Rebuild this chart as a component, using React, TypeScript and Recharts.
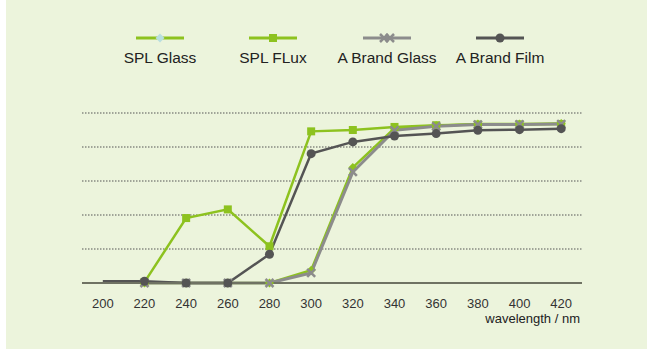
import { LineChart, Line, XAxis, YAxis, CartesianGrid } from 'recharts';

const wavelengths = ['200', '220', '240', '260', '280', '300', '320', '340', '360', '380', '400', '420'];

// transmittance (%) per wavelength
const splGlass = [null, 0, 0, 0, 0, 7.5, 68, 91, 92.5, 93.5, 93.5, 93.8];
const splFlux = [null, 0.5, 38.2, 43.3, 21.6, 89.2, 90, 91.8, 92.8, 93.2, 93.3, 93.5];
const aBrandGlass = [null, 0, 0, 0, 0, 5.9, 65.3, 89.8, 92.2, 93.2, 93.3, 93.5];
const aBrandFilm = [1, 1, 0, 0, 16.9, 76.1, 83, 86.5, 87.9, 89.8, 90.2, 90.8];

const yTicks = [0, 20, 40, 60, 80, 100];

const GREEN = '#8dc21f';
const LIGHT_GRAY = '#8c8c8c';
const DARK_GRAY = '#545454';
const FONT = '"Liberation Sans", Arial, Helvetica, sans-serif';

const data = wavelengths.map((w, i) => ({
  wavelength: w,
  splGlass: splGlass[i],
  splFlux: splFlux[i],
  aBrandGlass: aBrandGlass[i],
  aBrandFilm: aBrandFilm[i],
}));

type Marker = 'diamond' | 'square' | 'cross' | 'circle';

const drawMarker = (kind: Marker, cx: number, cy: number, color: string, key?: string) => {
  switch (kind) {
    case 'diamond':
      return <polygon key={key} points={`${cx},${cy - 4.5} ${cx + 4.5},${cy} ${cx},${cy + 4.5} ${cx - 4.5},${cy}`} fill={color} />;
    case 'square':
      return <rect key={key} x={cx - 4} y={cy - 4} width={8} height={8} fill={color} />;
    case 'cross':
      return (
        <g key={key} stroke={color} strokeWidth={2.5}>
          <line x1={cx - 4} y1={cy - 4} x2={cx + 4} y2={cy + 4} />
          <line x1={cx - 4} y1={cy + 4} x2={cx + 4} y2={cy - 4} />
        </g>
      );
    default:
      return <circle key={key} cx={cx} cy={cy} r={4.5} fill={color} />;
  }
};

const makeDot = (kind: Marker, color: string, skipFirst = false) => (props: any) => {
  const { cx, cy, index, value } = props;
  if (cx == null || cy == null || value == null || (skipFirst && index === 0)) {
    return <g key={`none-${kind}-${index}`} />;
  }
  return drawMarker(kind, cx, cy, color, `dot-${kind}-${index}`);
};

const series = [
  { key: 'splGlass', name: 'SPL Glass', color: GREEN, marker: 'diamond' as Marker, legendMarker: '#b9dfe0', width: 2.5, cx: 160 },
  { key: 'splFlux', name: 'SPL FLux', color: GREEN, marker: 'square' as Marker, legendMarker: GREEN, width: 2.5, cx: 273 },
  { key: 'aBrandGlass', name: 'A Brand Glass', color: LIGHT_GRAY, marker: 'cross' as Marker, legendMarker: LIGHT_GRAY, width: 3, cx: 387 },
  { key: 'aBrandFilm', name: 'A Brand Film', color: DARK_GRAY, marker: 'circle' as Marker, legendMarker: DARK_GRAY, width: 2.5, cx: 500 },
];

const LegendRow = () => (
  <div style={{ position: 'absolute', left: 0, top: 0, width: 647, height: 80 }}>
    {series.map((s) => (
      <div key={s.key} style={{ position: 'absolute', left: s.cx - 60, top: 32, width: 120, textAlign: 'center' }}>
        <svg width={48} height={12} style={{ display: 'block', margin: '0 auto' }}>
          <line x1={0} y1={6} x2={48} y2={6} stroke={s.color} strokeWidth={3} />
          {s.marker === 'cross' ? (
            <g>
              {drawMarker('cross', 21, 6, s.legendMarker)}
              {drawMarker('cross', 27, 6, s.legendMarker)}
            </g>
          ) : (
            drawMarker(s.marker, 24, 6, s.legendMarker)
          )}
        </svg>
        <div style={{ fontFamily: FONT, fontSize: 15.5, color: '#222', marginTop: 5, lineHeight: '18px' }}>{s.name}</div>
      </div>
    ))}
  </div>
);

const AxisTitle = (props: any) => {
  const { viewBox } = props;
  return (
    <text x={viewBox.x + viewBox.width - 2} y={viewBox.y + 40} textAnchor="end" fontFamily={FONT} fontSize={13} fill="#222">
      wavelength / nm
    </text>
  );
};

export default function App() {
  return (
    <div style={{ position: 'absolute', left: 0, top: 0, width: 647, height: 349, background: '#fff' }}>
      <style>{'body{margin:0}'}</style>
      <div style={{ position: 'absolute', left: 6, top: 0, width: 641, height: 349, background: '#ecf4dc' }} />
      <LegendRow />
      <div style={{ position: 'absolute', left: 0, top: 0 }}>
        <LineChart width={647} height={349} data={data} margin={{ top: 113, right: 65, bottom: 36, left: 82 }}>
          <CartesianGrid vertical={false} stroke="#555" strokeDasharray="1.5 1.5" />
          <XAxis
            dataKey="wavelength"
            tickLine={false}
            axisLine={{ stroke: '#6f7263', strokeWidth: 2 }}
            tick={{ fontSize: 13, fill: '#333', fontFamily: FONT }}
            tickMargin={10}
            interval={0}
            padding={{ left: 20.8, right: 20.8 }}
            label={<AxisTitle />}
          />
          <YAxis hide domain={[0, 100]} ticks={yTicks} />
          {series.map((s) => (
            <Line
              key={s.key}
              type="linear"
              dataKey={s.key}
              name={s.name}
              stroke={s.color}
              strokeWidth={s.width}
              dot={makeDot(s.marker, s.color, s.key === 'aBrandFilm')}
              activeDot={false}
              connectNulls={false}
              isAnimationActive={false}
            />
          ))}
        </LineChart>
      </div>
    </div>
  );
}
